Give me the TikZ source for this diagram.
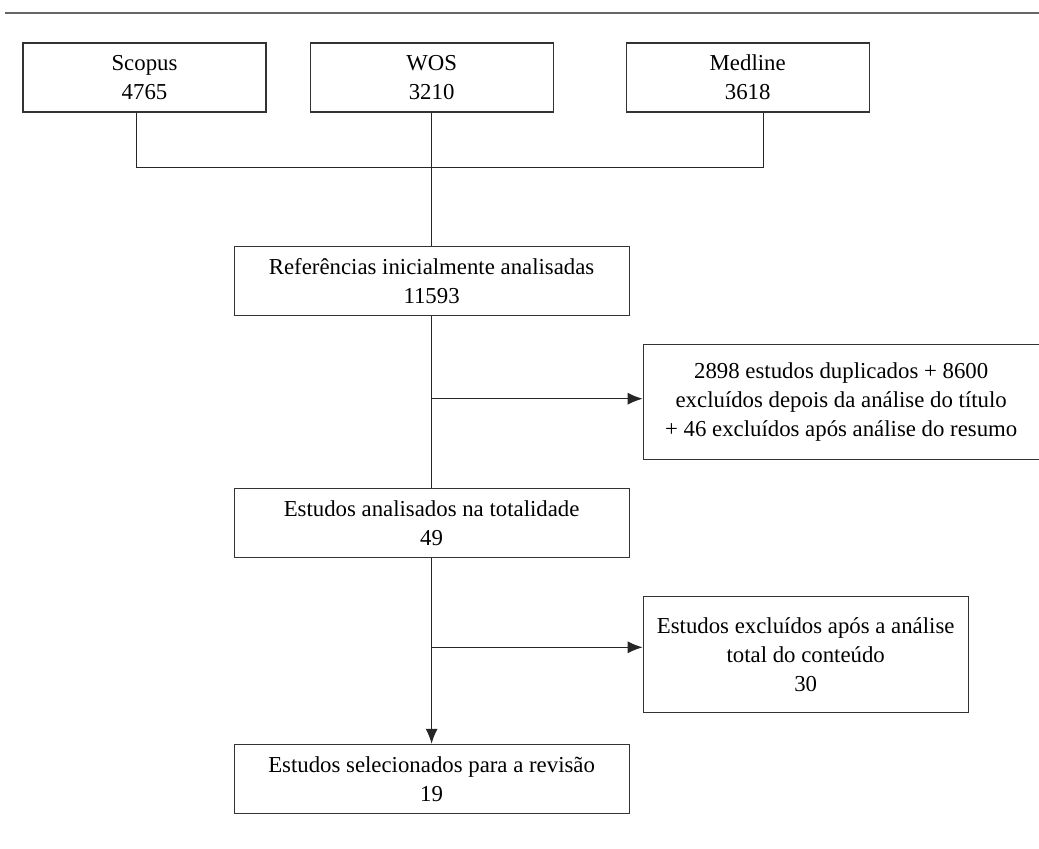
\documentclass[tikz,border=0pt]{standalone}
\usepackage{fontspec}
\setmainfont{Liberation Serif}
\usetikzlibrary{positioning,arrows.meta}

\begin{document}
\begin{tikzpicture}[>={Latex[length=7.5pt,width=6pt]},line width=0.55pt,
      font=\fontsize{11.4}{14.5}\selectfont,
      main box/.style={rectangle,draw=black!80,align=center,inner sep=2pt,
        minimum width=197.5pt,minimum height=34.5pt},
      src box/.style={main box,minimum width=121.5pt},
      side box/.style={main box,anchor=north west}]
 \useasboundingbox (0,0) rectangle (519.5pt,-424pt);
 \draw[black!60,line width=0.75pt] (2.5pt,-6.5pt) -- (519.5pt,-6.5pt);

 % databases
 \node[src box] (scopus) at (72.25pt,-38.75pt) {Scopus\\4765};
 \node[src box] (wos) [right=21.5pt of scopus] {WOS\\3210};
 \node[src box] (medline) [right=36pt of wos] {Medline\\3618};

 % main column
 \node[main box] (refs) [below=66.5pt of wos] {Referências inicialmente analisadas\\11593};
 \node[main box] (tot) [below=86pt of refs] {Estudos analisados na totalidade\\49};
 \node[main box] (sel) [below=93pt of tot] {Estudos selecionados para a revisão\\19};

 % exclusions
 \node[side box, minimum width=198pt, minimum height=57.5pt] (dup)
   [right=6.5pt of refs.south east, anchor=north west, yshift=-14pt]
   {2898 estudos duplicados + 8600\\excluídos depois da análise do título\\+ 46 excluídos após análise do resumo};
 \node[side box, minimum width=162.5pt, minimum height=58pt] (exc)
   [right=6.5pt of tot.south east, anchor=north west, yshift=-19pt]
   {Estudos excluídos após a análise\\total do conteúdo\\30};

 \coordinate (dupin) at ([yshift=1.5pt]dup.west);
 \coordinate (excin) at ([yshift=3.5pt]exc.west);

 \draw[black!85] ([xshift=-4pt]scopus.south) -- ++(0,-27.5pt) -| ([xshift=7.75pt]medline.south);
 \draw[black!85] (wos.south) -- (wos.south |- refs.north);
 \draw[black!85] (refs.south) -- (tot.north);
 \draw[black!85,->] (tot.south) -- (sel.north);
 \draw[black!85,->] (refs.south |- dupin) -- (dupin);
 \draw[black!85,->] (tot.south |- excin) -- (excin);
\end{tikzpicture}
\end{document}
